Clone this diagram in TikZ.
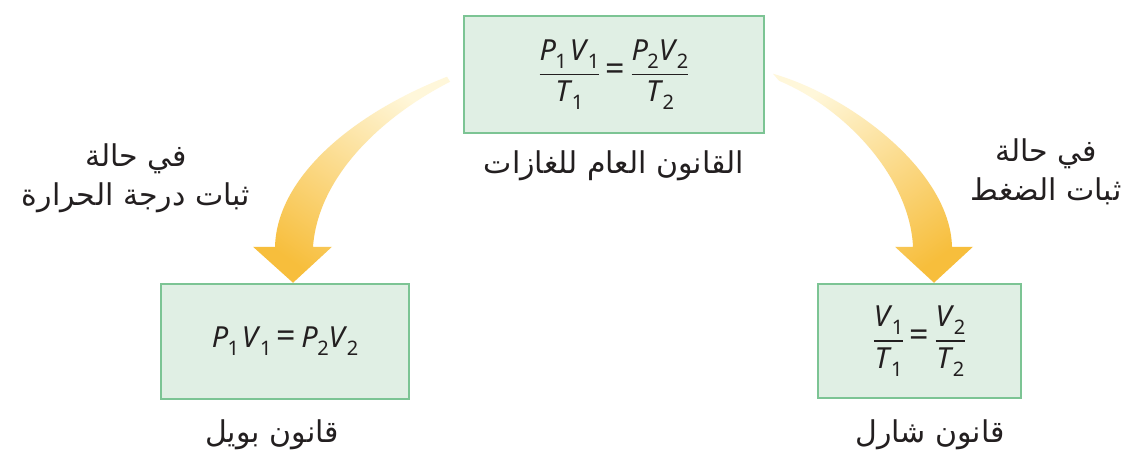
\documentclass[tikz,border=0pt]{standalone}
\usepackage{amsmath}
\usepackage{fontspec}
\setmainfont{Noto Sans}
\newfontfamily\eqfont{Noto Sans}
\newfontfamily\arabicfont[Script=Arabic]{DejaVu Sans}
\TeXXeTstate=1
\definecolor{boxfill}{HTML}{E0EFE4}
\definecolor{boxline}{HTML}{7CC494}
\definecolor{arrowdark}{HTML}{F7BE3C}
\definecolor{arrowmid}{HTML}{F9D06A}
\definecolor{arrowpale}{HTML}{FFF7DA}
\definecolor{textdark}{HTML}{231F20}
\newcommand\qv[2]{\textit{#1}\kern-0.02em\raisebox{-0.28em}{\fontsize{20}{20}\selectfont #2}}
\newcommand\qfr[2]{\ensuremath{\genfrac{}{}{1.8pt}{0}{\mbox{#1}}{\mbox{#2}}}}
\newcommand\qeq{\kern0.18em\raisebox{0.02em}{\fontsize{34}{34}\selectfont =}\kern0.18em}
\begin{document}
\begin{tikzpicture}[x=1pt,y=-1pt,
  lawbox/.style={draw=boxline, fill=boxfill, line width=2.5pt, inner sep=0pt,
    text=textdark, font=\eqfont\fontsize{29}{34}\selectfont},
  arlabel/.style={font=\arabicfont\fontsize{30}{39}\selectfont, text=textdark,
    align=center, inner sep=0pt},
  bigarrow/.style={draw=none},
]
\useasboundingbox[fill=white] (0,0) rectangle (1140,452);

% boxes
\node[lawbox, minimum width=300pt, minimum height=117pt] (gen) at (614,74.5)
  {\qfr{\qv{P}{1}\kern0.1em\qv{V}{1}}{\qv{T}{1}}\qeq\qfr{\qv{P}{2}\qv{V}{2}}{\qv{T}{2}}};
\node[lawbox, minimum width=248pt, minimum height=115pt] (boyle) at (285,341.5)
  {\qv{P}{1}\kern0.1em\qv{V}{1}\qeq\qv{P}{2}\qv{V}{2}};
\node[lawbox, minimum width=203pt, minimum height=114pt] (charles) at (919.5,341)
  {\qfr{\qv{V}{1}}{\qv{T}{1}}\qeq\qfr{\qv{V}{2}}{\qv{T}{2}}};

% box labels
\node[arlabel] (genlbl) at (614,166) {\beginR القانون العام للغازات\endR};
\node[arlabel] (boylelbl) at (272,435) {\beginR قانون بويل\endR};
\node[arlabel] (charleslbl) at (930,435) {\beginR قانون شارل\endR};

% condition labels
\node[arlabel] (condT) at (136,178) {\beginR في حالة\endR\\\beginR ثبات درجة الحرارة\endR};
\node[arlabel] (condP) at (1046,172) {\beginR في حالة\endR\\\beginR ثبات الضغط\endR};

% arrow tips anchored on the boxes
\coordinate (ltip) at ([xshift=8pt]boyle.north);
\coordinate (rtip) at ([xshift=14.5pt]charles.north);

% left curved arrow (gen -> boyle)
\begin{scope}[shift={(ltip)}]
\shade[bigarrow, top color=arrowpale, middle color=arrowmid, bottom color=arrowdark, shading angle=-35]
  (154,-206) .. controls (62,-170) and (-16,-107) .. (-18,-36)
  -- (-40,-36) -- (0,0) -- (39,-36) -- (20,-36)
  .. controls (25,-104) and (85,-164) .. (157,-201) -- cycle;
\end{scope}

% right curved arrow (gen -> charles)
\begin{scope}[shift={(rtip)}]
\shade[bigarrow, top color=arrowpale, middle color=arrowmid, bottom color=arrowdark, shading angle=35]
  (-161,-209) .. controls (-84,-187) and (16,-112) .. (18,-36)
  -- (39,-36) -- (0,0) -- (-39,-36) -- (-21,-36)
  .. controls (-24,-102) and (-84,-172) .. (-155,-202) -- cycle;
\end{scope}
\end{tikzpicture}
\end{document}
